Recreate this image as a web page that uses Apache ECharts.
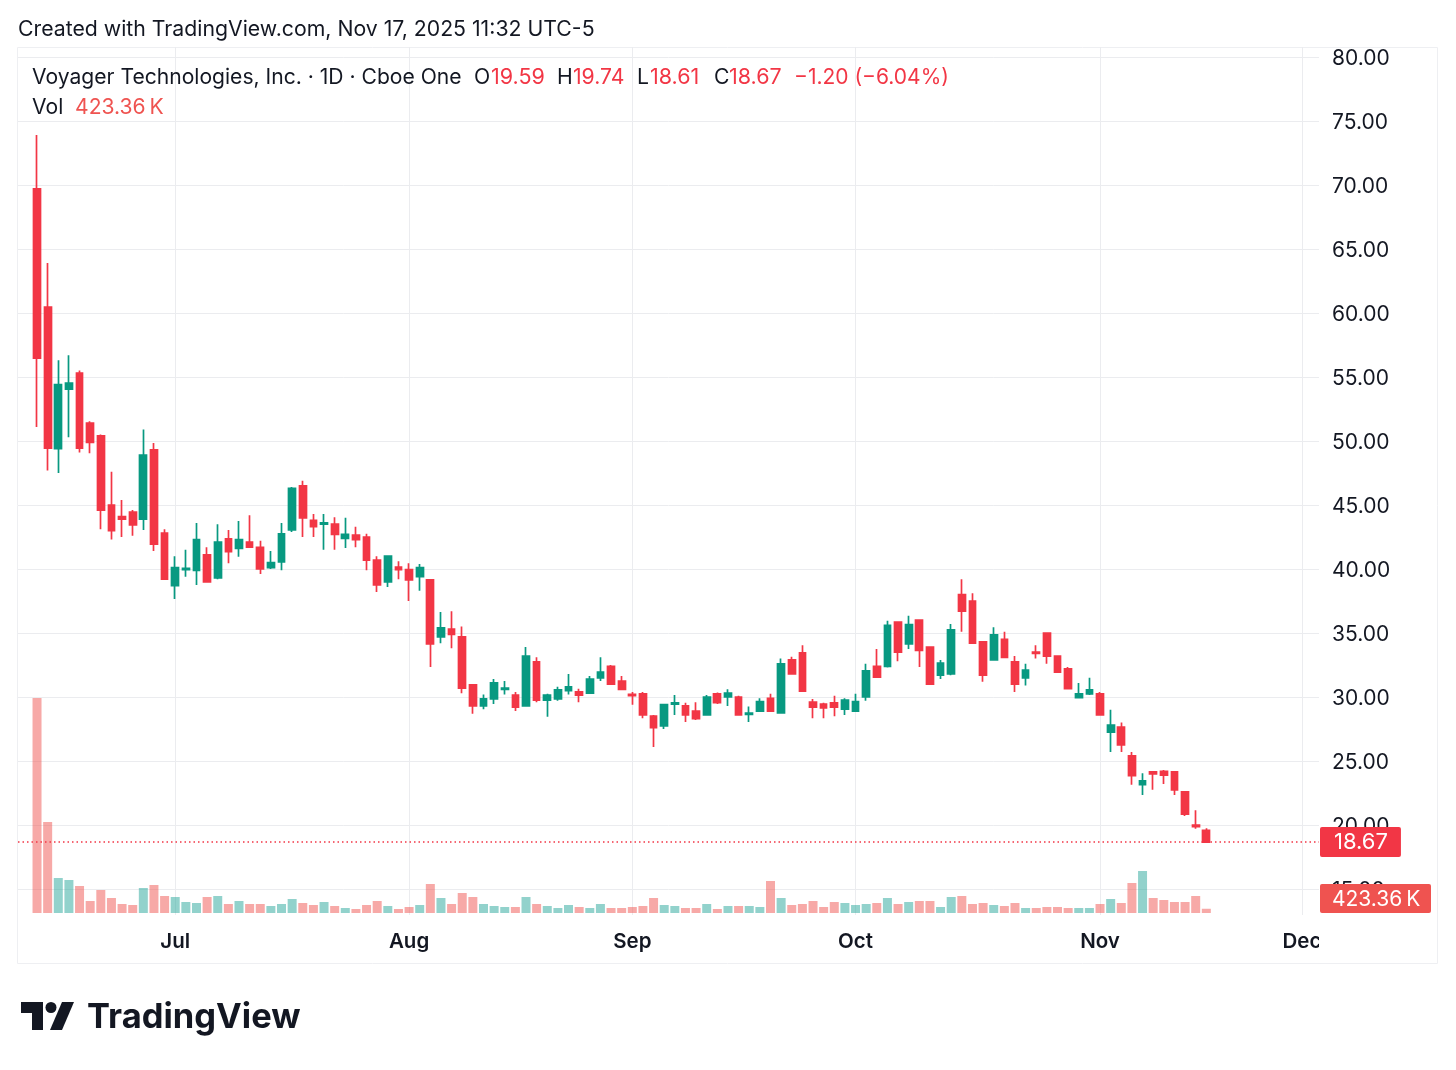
<!DOCTYPE html>
<html>
<head>
<meta charset="utf-8">
<title>Voyager Technologies</title>
<script src="https://cdn.jsdelivr.net/npm/echarts@6/dist/echarts.min.js"></script>
<style>
html, body { margin: 0; padding: 0; background: #fff; }
#main { width: 1456px; height: 1070px; }
</style>
</head>
<body>
<div id="main"></div>
<script>
// daily bars, first one Jun 11 2025, last one Nov 17 2025
var opens = [69.69, 60.47, 49.4, 54.06, 55.3, 51.4, 50.4, 45, 44.1, 44.45,
  43.9, 49.3, 42.8, 38.7, 39.95, 39.9, 41.1, 39.3, 42.35, 41.6,
  42.1, 41.7, 40.1, 40.55, 43.05, 46.5, 43.8, 43.5, 43.5, 42.4,
  42.65, 42.5, 40.7, 39, 40.15, 39.95, 39.4, 39.15, 34.7, 35.3,
  34.7, 30.95, 29.3, 29.85, 30.6, 30.15, 29.3, 32.75, 29.75, 29.85,
  30.5, 30.4, 30.3, 31.5, 32.4, 31.25, 30.2, 30.25, 28.5, 27.75,
  29.45, 29.3, 28.9, 28.6, 30.25, 30, 30, 28.65, 28.9, 29.9,
  28.75, 32.9, 33.45, 29.6, 29.45, 29.55, 29.05, 28.9, 30, 32.4,
  32.4, 35.85, 34.15, 36, 33.9, 31.7, 31.8, 38, 37.5, 34.3,
  32.9, 34.5, 32.75, 31.5, 33.5, 35, 33.2, 32.2, 29.95, 30.25,
  30.25, 27.25, 27.65, 25.4, 23.15, 24.15, 24.2, 24.15, 22.6, 20, 19.59];
var closes = [56.48, 49.45, 54.4, 54.53, 49.45, 49.9, 44.6, 43, 43.9, 43.45,
  48.9, 41.95, 39.2, 40.1, 40.05, 42.3, 39, 42.1, 41.35, 42.3,
  41.7, 40, 40.5, 42.75, 46.3, 44, 43.3, 43.6, 42.7, 42.7,
  42.3, 40.7, 38.75, 41, 39.95, 39.15, 40.1, 34.15, 35.4, 34.9,
  30.7, 29.3, 29.85, 31.1, 30.7, 29.2, 33.2, 29.75, 30.15, 30.55,
  30.8, 30.15, 31.4, 31.95, 31, 30.6, 30.1, 28.6, 27.6, 29.4,
  29.55, 28.6, 28.3, 30, 29.55, 30.3, 28.6, 28.75, 29.65, 28.9,
  32.6, 31.8, 30.45, 29.2, 29.15, 29.2, 29.75, 29.65, 32.05, 31.55,
  35.6, 33.5, 35.65, 33.65, 31, 32.65, 35.25, 36.7, 34.2, 31.7,
  34.85, 33.1, 31, 32.1, 33.4, 33.2, 31.95, 30.65, 30.25, 30.55,
  28.6, 27.8, 26.25, 23.85, 23.45, 24, 23.9, 22.75, 20.85, 19.87, 18.67];
var lows = [51.1, 47.7, 47.5, 50.3, 49.1, 49.05, 43.1, 42.3, 42.5, 42.6,
  43.05, 41.4, 39.2, 37.65, 39.4, 38.75, 39, 39.2, 40.45, 40.95,
  41.65, 39.6, 40, 39.9, 42.9, 42.5, 42.5, 41.5, 41.5, 41.65,
  41.7, 39.9, 38.2, 38.6, 39.2, 37.5, 38.3, 32.35, 34.2, 33.8,
  30.3, 28.7, 29.05, 29.45, 30.2, 28.9, 29.3, 29.6, 28.45, 29.7,
  30.2, 29.6, 30.3, 31.25, 31, 30.55, 29.4, 28.35, 26.1, 27.5,
  28.6, 28.05, 28.2, 28.6, 29.45, 29.3, 28.6, 28.05, 28.9, 28.85,
  28.7, 31.8, 30.45, 28.35, 28.35, 28.5, 28.6, 28.9, 29.7, 31.5,
  32.3, 32.8, 33.75, 32.35, 31, 31.4, 31.7, 35.1, 34.2, 31.2,
  32.9, 33.1, 30.4, 30.9, 33, 32.6, 31.9, 30.65, 29.95, 30.15,
  28.6, 25.7, 25.7, 23.15, 22.35, 22.75, 23.2, 22.35, 20.7, 19.7, 18.61];
var highs = [73.9, 63.9, 56.3, 56.7, 55.5, 51.55, 50.5, 47.6, 45.4, 44.6,
  50.9, 49.85, 43.1, 41, 41.5, 43.6, 41.7, 43.5, 43.05, 43.75,
  44.2, 42.2, 41.4, 43.6, 46.4, 46.9, 44.3, 44.3, 44.05, 44,
  43.3, 42.75, 41, 41, 40.6, 40.45, 40.4, 39.2, 36.65, 36.7,
  35.5, 30.95, 30.2, 31.4, 31.25, 30.4, 33.9, 33.1, 30.25, 30.8,
  31.8, 30.65, 31.65, 33.1, 32.5, 31.65, 30.4, 30.4, 28.6, 29.45,
  30.15, 29.55, 29.6, 30.15, 30.35, 30.6, 30.1, 29.25, 29.9, 30.25,
  33, 33.15, 34.05, 29.85, 29.55, 30.1, 29.9, 30.25, 32.6, 33.75,
  35.95, 35.85, 36.35, 36, 33.9, 32.9, 35.7, 39.2, 38.1, 34.3,
  35.45, 35.1, 33.2, 32.6, 34.05, 35, 33.2, 32.35, 31.1, 31.5,
  30.4, 29, 28, 25.7, 24.05, 24.2, 24.3, 24.2, 22.65, 21.15, 19.74];
// volume in thousands
var volumes = [21500, 9100, 3500, 3300, 2700, 1200, 2300, 1500, 900, 800,
  2500, 2800, 1700, 1600, 1100, 1000, 1600, 1700, 900, 1200,
  900, 900, 700, 900, 1400, 1000, 800, 1100, 700, 500,
  400, 800, 1200, 700, 400, 600, 800, 2900, 1500, 900,
  2000, 1600, 900, 700, 600, 600, 1600, 900, 700, 500,
  800, 600, 500, 900, 500, 500, 600, 700, 1500, 800,
  700, 500, 500, 900, 400, 700, 700, 700, 600, 3200,
  1500, 800, 900, 1200, 600, 1100, 1000, 800, 900, 1000,
  1500, 900, 1100, 1200, 1200, 600, 1600, 1700, 900, 1000,
  800, 700, 1000, 500, 500, 600, 600, 500, 500, 500,
  900, 1400, 1000, 3000, 4200, 1500, 1300, 1100, 1100, 1700, 423.36];
var monthLabels = ['Jul', 'Aug', 'Sep', 'Oct', 'Nov', 'Dec'];
var monthBars = [13, 35, 56, 77, 100, 119];
var priceTicks = [15, 20, 25, 30, 35, 40, 45, 50, 55, 60, 65, 70, 75, 80];
var lastClose = 18.67;

var RED = '#f23645', GREEN = '#089981';
var FONT = 'Inter, "Noto Sans", sans-serif';
var GRID_LINE = '#ebecef';

var candles = opens.map(function (o, i) { return [i, o, closes[i], lows[i], highs[i]]; });
var volBars = volumes.map(function (v, i) {
  return {
    value: [i, v],
    itemStyle: { color: closes[i] > opens[i] ? 'rgba(38,166,154,.5)' : 'rgba(239,83,80,.5)' }
  };
});

function txt(x, y, text, fill, size, weight) {
  return {
    type: 'text', x: x, y: y, z: 20, silent: true,
    style: { text: text, fill: fill || '#131722', font: (weight || 400) + ' ' + (size || 20) + 'px ' + FONT, textVerticalAlign: 'middle' }
  };
}

var option = {
  animation: false,
  backgroundColor: '#fff',
  grid: [
    { left: 18, right: 137, top: 47, bottom: 155 },
    { left: 18, right: 137, top: 47, bottom: 157 }
  ],
  xAxis: [
    {
      type: 'value', gridIndex: 0, min: -1.79, max: 120.6,
      axisLine: { show: false },
      axisTick: { show: false, customValues: monthBars },
      splitLine: { show: true, lineStyle: { color: GRID_LINE, width: 1 } },
      axisLabel: {
        customValues: monthBars, margin: 14, fontFamily: FONT, fontSize: 20.5, fontWeight: 600, color: '#131722',
        padding: [2, 0, 0, 0],
        formatter: function (v) { return monthLabels[monthBars.indexOf(v)]; }
      }
    },
    { type: 'value', gridIndex: 1, min: -1.79, max: 120.6, show: false }
  ],
  yAxis: [
    {
      type: 'value', gridIndex: 0, position: 'right', min: 12.97, max: 80.78, scale: true,
      axisLine: { show: false },
      axisTick: { show: false, customValues: priceTicks },
      splitLine: { show: true, lineStyle: { color: GRID_LINE, width: 1 } },
      axisLabel: {
        customValues: priceTicks, margin: 13, fontFamily: FONT, fontSize: 21, color: '#131722',
        // small line box hung from the tick puts the digits 1-2px lower, as in the source
        verticalAlign: 'top', lineHeight: 3,
        formatter: function (v) { return v.toFixed(2); }
      }
    },
    { type: 'value', gridIndex: 1, min: 0, max: 86600, show: false }
  ],
  series: [
    {
      type: 'bar', xAxisIndex: 1, yAxisIndex: 1, barWidth: 9, z: 1, silent: true,
      data: volBars, encode: { x: 0, y: 1 }
    },
    {
      type: 'candlestick', xAxisIndex: 0, yAxisIndex: 0, barWidth: 7.2, z: 2, silent: true,
      encode: { x: 0, y: [1, 2, 3, 4] },
      itemStyle: { color: GREEN, color0: RED, borderColor: GREEN, borderColor0: RED, borderWidth: 1.7 },
      data: candles,
      markLine: {
        silent: true, symbol: 'none', z: 5,
        lineStyle: { color: RED, type: [1.5, 3], width: 1.5 },
        label: {
          position: 'end', distance: 1, color: '#fff', backgroundColor: RED, borderRadius: 2,
          padding: [5, 13, 3, 14], fontFamily: FONT, fontSize: 22,
          formatter: function (p) { return p.value.toFixed(2); }
        },
        data: [{ yAxis: lastClose }]
      }
    }
  ],
  graphic: [
    // chart frame
    { type: 'rect', z: 0, silent: true, shape: { x: 17.5, y: 47.5, width: 1420, height: 916 }, style: { fill: 'none', stroke: '#eeeff2', lineWidth: 1 } },
    // the Dec label is cut off where the price scale begins
    { type: 'rect', z: 19, silent: true, shape: { x: 1319, y: 922, width: 118, height: 38 }, style: { fill: '#fff' } },
    txt(18, 29.5, 'Created with TradingView.com, Nov 17, 2025 11:32 UTC-5', '#131722', 21.25),
    txt(32, 77.5, 'Voyager Technologies, Inc. · 1D · Cboe One', '#131722', 21.1),
    txt(474, 77.5, 'O', '#131722', 21.2), txt(491, 77.5, '19.59', RED, 21.5),
    txt(557, 77.5, 'H', '#131722', 21.2), txt(573, 77.5, '19.74', RED, 21.2),
    txt(637, 77.5, 'L', '#131722', 21.2), txt(650, 77.5, '18.61', RED, 21.5),
    txt(714, 77.5, 'C', '#131722', 21.2), txt(729, 77.5, '18.67', RED, 21.5),
    txt(794, 77.5, '−1.20 (−6.04%)', RED, 21),
    txt(32, 107.5, 'Vol', '#131722', 21.1), txt(75, 107.5, '423.36\u2009K', '#ef5350', 21.1),
    // volume tag
    { type: 'rect', z: 20, silent: true, shape: { x: 1320, y: 884, width: 111, height: 29, r: 2 }, style: { fill: '#ef5350' } },
    { type: 'text', x: 1332, y: 900, z: 21, silent: true, style: { text: '423.36\u2009K', fill: '#fff', font: '400 21px ' + FONT, textVerticalAlign: 'middle' } },
    // logo
    { type: 'polygon', z: 20, silent: true, shape: { points: [[21, 1002], [43, 1002], [43, 1030], [32, 1030], [32, 1013], [21, 1013]] }, style: { fill: '#131722' } },
    { type: 'circle', z: 20, silent: true, shape: { cx: 51, cy: 1007.5, r: 5.5 }, style: { fill: '#131722' } },
    { type: 'polygon', z: 20, silent: true, shape: { points: [[62, 1002], [74, 1002], [62, 1030], [50, 1030]] }, style: { fill: '#131722' } },
    txt(87, 1018, 'TradingView', '#131722', 34.5, 700)
  ]
};

var myChart = echarts.init(document.getElementById('main'));
myChart.setOption(option);
</script>
</body>
</html>
